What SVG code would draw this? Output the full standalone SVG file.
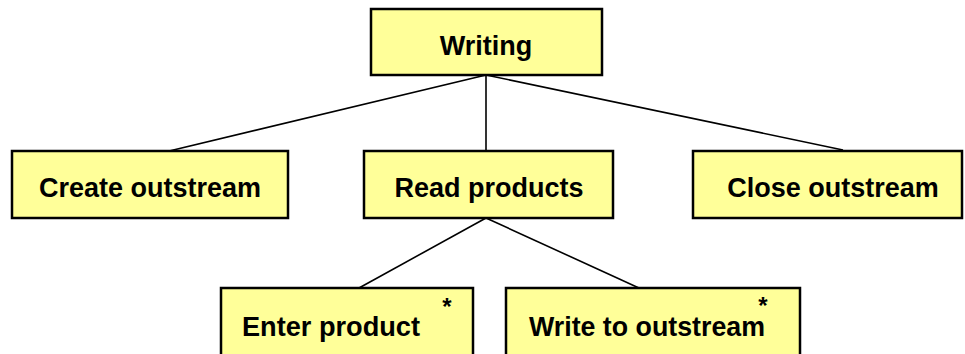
<svg xmlns="http://www.w3.org/2000/svg" width="965" height="354" viewBox="0 0 965 354">
<style>
.box{fill:#FFFF99;stroke:#000;stroke-width:2.5}
.t{font-family:"Liberation Sans",Arial,sans-serif;font-weight:bold;font-size:27px;fill:#000;text-anchor:middle}
.b{font-family:"Liberation Sans",Arial,sans-serif;font-weight:bold;font-size:28px;fill:#000}
.s{font-family:"Liberation Sans",Arial,sans-serif;font-weight:bold;font-size:24px;fill:#000;text-anchor:middle}
.c{stroke:#000;stroke-width:1.6;fill:none}
</style>
<rect width="965" height="354" fill="#fff"/>
<g id="connectors">
<line class="c" x1="486" y1="75" x2="165" y2="152"/>
<line class="c" x1="486" y1="75" x2="486" y2="151"/>
<line class="c" x1="486" y1="75" x2="843" y2="150"/>
<line class="c" x1="486" y1="218" x2="359" y2="288"/>
<line class="c" x1="486" y1="218" x2="639" y2="288"/>
</g>
<g id="writing">
<rect class="box" x="371" y="9" width="231" height="66"/>
<text class="t" x="486" y="55">Writing</text>
</g>
<g id="create-outstream">
<rect class="box" x="12" y="151" width="276" height="67"/>
<text class="t" x="150" y="197">Create outstream</text>
</g>
<g id="read-products">
<rect class="box" x="364" y="151" width="249" height="67"/>
<text class="t" x="489" y="197">Read products</text>
</g>
<g id="close-outstream">
<rect class="box" x="693" y="151" width="269" height="67"/>
<text class="t" x="833" y="197">Close outstream</text>
</g>
<g id="enter-product">
<rect class="box" x="221" y="288" width="252" height="70"/>
<text class="b" x="242" y="336" textLength="178" lengthAdjust="spacingAndGlyphs">Enter product</text>
<text class="s" x="447" y="315">*</text>
</g>
<g id="write-to-outstream">
<rect class="box" x="506" y="288" width="294" height="70"/>
<text class="b" x="529" y="336" textLength="236" lengthAdjust="spacingAndGlyphs">Write to outstream</text>
<text class="s" x="763" y="314">*</text>
</g>
</svg>
